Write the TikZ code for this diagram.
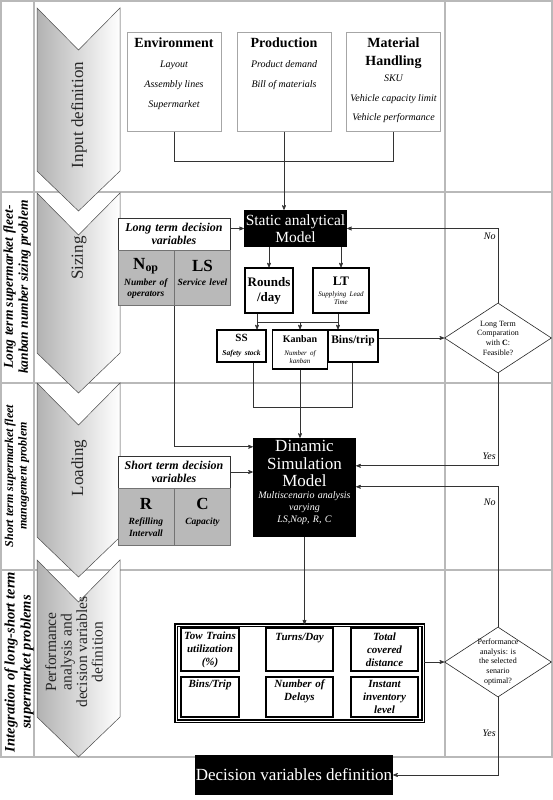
\documentclass[tikz,border=0pt]{standalone}
\usepackage{fontspec}
\setmainfont{Liberation Serif}
\usetikzlibrary{arrows,positioning,shapes.geometric}

\tikzset{
  lane/.style={draw=gray!55, line width=1.2pt},
  chev/.style={left color=gray!60, right color=white, draw=gray!60!black, line width=0.5pt},
  chevtext/.style={rotate=90, align=center, text=black!85, font=\fontsize{17}{19}\selectfont},
  sidetext/.style={rotate=90, align=center, font=\bfseries\itshape\fontsize{13.5}{15}\selectfont},
  inbox/.style={draw=gray!70, line width=0.6pt, minimum width=94pt, minimum height=99pt, inner sep=0pt, anchor=north},
  blackbox/.style={fill=black, text=white, align=center, inner sep=0pt},
  varbox/.style={draw=black!80, line width=0.8pt, fill=white, minimum width=112pt, minimum height=32pt, text width=110pt, align=center, inner sep=0pt, font=\bfseries\itshape\fontsize{12}{13.5}\selectfont},
  greybox/.style={draw=black!55, line width=0.6pt, fill=gray!55, minimum width=56pt, text width=54pt, align=center, inner sep=0pt},
  calcbox/.style={draw, line width=1.2pt, fill=white, align=center, inner sep=0pt},
  kpicell/.style={draw, line width=1.2pt, align=center, inner sep=0pt, font=\bfseries\itshape\fontsize{11}{13}\selectfont},
  check/.style={diamond, draw=black!85, line width=0.6pt, minimum width=107pt, minimum height=70pt, inner sep=0pt},
  checktext/.style={align=center, font=\fontsize{8}{9.7}\selectfont},
  answer/.style={font=\itshape\fontsize{10}{12}\selectfont, inner sep=2pt},
  link/.style={draw=black!80, line width=0.7pt}
}

\begin{document}
\begin{tikzpicture}[x=1pt,y=-1pt,>=stealth']
\useasboundingbox (0,0) rectangle (553,800);

\draw[lane] (1,1) rectangle (552,757);
\draw[lane] (34,1) -- (34,757) (445,1) -- (445,757)
  (1,192) -- (552,192) (1,383) -- (552,383) (1,570) -- (552,570);

\foreach \t/\b in {8/171,193/353,383/537,560/717}
  \shadedraw[chev] (37,\t) -- (78.5,\t+42) -- (120,\t) -- (120,\b) -- (78.5,\b+40) -- (37,\b) -- cycle;

\node[chevtext] (inp) at (79,115) {Input definition};
\node[chevtext] (siz) at (79,258) {Sizing};
\node[chevtext] (loa) at (79,468) {Loading};
\node[chevtext, font=\fontsize{15.5}{15.5}\selectfont] (per) at (74,652) {Performance\\analysis and\\decision variables\\definition};

\node[sidetext] (lts) at (17,287) {Long term supermarket fleet-\\kanban number sizing problem};
\node[sidetext, font=\bfseries\itshape\fontsize{12}{13.5}\selectfont] (sts) at (17,476) {Short term supermarket fleet\\management problem};
\node[sidetext, font=\bfseries\itshape\fontsize{14.5}{16}\selectfont] (int) at (19,662) {Integration of long-short term\\supermarket problems};

\node[inbox] (env) at (174,32) {\parbox[c][97pt][t]{92pt}{\centering\fontsize{10}{20}\selectfont
  \vspace*{4pt}\textbf{\fontsize{14}{16}\selectfont Environment}\\ \itshape Layout\\Assembly lines\\Supermarket}};
\node[inbox] (prod) at (284,32) {\parbox[c][97pt][t]{92pt}{\centering\fontsize{10}{20}\selectfont
  \vspace*{4pt}\textbf{\fontsize{14}{16}\selectfont Production}\\ \itshape Product demand\\Bill of materials}};
\node[inbox] (mat) at (393.5,32) {\parbox[c][97pt][t]{92pt}{\centering
  \vspace*{4pt}{\bfseries\fontsize{14}{18}\selectfont Material\\Handling\par}\vspace{-3pt}
  {\itshape\fontsize{10}{19.5}\selectfont SKU\\Vehicle capacity limit\\Vehicle performance\par}}};

\node[blackbox, minimum width=103pt, minimum height=37pt, font=\fontsize{15.5}{17}\selectfont] (static) at (295.5,228.5) {Static analytical\\Model};

\node[varbox] (ltv) at (174,234) {Long term decision\\variables};
\node[greybox, minimum height=55pt, below right=0pt and 0pt of ltv.south west] (nop)
  {{\bfseries\fontsize{17}{18}\selectfont N\textsubscript{op}\par}\vspace{4pt}
   {\bfseries\itshape\fontsize{9.5}{10.5}\selectfont Number of\\operators\par}};
\node[greybox, minimum height=55pt, right=0pt of nop] (ls)
  {{\bfseries\fontsize{17}{18}\selectfont LS\par}\vspace{4pt}
   {\bfseries\itshape\fontsize{9.5}{10.5}\selectfont Service level\\ \mbox{}\par}};

\node[calcbox, minimum width=48pt, minimum height=45pt, text width=46pt, font=\bfseries\fontsize{13}{15}\selectfont] (rounds) at (269,290.5) {Rounds\\/day};
\node[calcbox, minimum width=56pt, minimum height=45pt, text width=54pt] (lt) at (341,290.5)
  {{\bfseries\fontsize{13}{15}\selectfont LT\par}\vspace{3pt}
   {\itshape\fontsize{7}{8}\selectfont Supplying Lead\\Time\par}};

\node[calcbox, minimum width=49pt, minimum height=32pt, text width=47pt] (ss) at (241.5,346)
  {{\bfseries\fontsize{11}{12}\selectfont SS\par}\vspace{6pt}
   {\bfseries\itshape\fontsize{7.5}{8}\selectfont Safety stock\par}};
\node[calcbox, minimum width=55pt, minimum height=39pt, text width=53pt] (kanban) at (300,349.5)
  {{\bfseries\fontsize{10}{12}\selectfont Kanban\par}\vspace{5pt}
   {\itshape\fontsize{7}{8}\selectfont Number of\\kanban\par}};
\node[calcbox, minimum width=50pt, minimum height=32pt, text width=48pt, font=\bfseries\fontsize{11.5}{13}\selectfont] (bins) at (353,346) {Bins/trip\\ \mbox{}};

\node[check, label={[checktext]center:{Long Term\\Comparation\\with \textbf{C}:\\Feasible?}}] (d1) at (498,338) {};

\node[blackbox, minimum width=103pt, minimum height=99pt, text width=101pt] (dyn) at (304.5,487.5)
  {{\fontsize{17}{17.5}\selectfont Dinamic\\Simulation\\Model\par}
   {\itshape\fontsize{10}{12}\selectfont Multiscenario analysis\\varying\\LS,Nop, R, C\par}\vspace{10pt}};

\node[varbox] (stv) at (174,472) {Short term decision\\variables};
\node[greybox, minimum height=57pt, below right=0pt and 0pt of stv.south west] (rint)
  {{\bfseries\fontsize{17}{18}\selectfont R\par}\vspace{4pt}
   {\bfseries\itshape\fontsize{9.5}{11.5}\selectfont Refilling\\Intervall\par}};
\node[greybox, minimum height=57pt, right=0pt of rint] (cap)
  {{\bfseries\fontsize{17}{18}\selectfont C\par}\vspace{4pt}
   {\bfseries\itshape\fontsize{9.5}{11.5}\selectfont Capacity\\ \mbox{}\par}};

\node[draw=black, double=white, double distance=0.9pt, line width=1.1pt, minimum width=247pt, minimum height=96pt] (res) at (299.5,673) {};
\node[kpicell, minimum width=58pt, minimum height=43pt, text width=56pt] (tow) at (210,649.5) {Tow Trains\\utilization\\(\%)};
\node[kpicell, minimum width=67pt, minimum height=43pt, text width=65pt] (turns) at (299.5,649.5) {Turns/Day\\ \mbox{}\\ \mbox{}};
\node[kpicell, minimum width=67pt, minimum height=43pt, text width=65pt] (dist) at (384.5,649.5) {Total\\covered\\distance};
\node[kpicell, minimum width=58pt, minimum height=40pt, text width=56pt] (btrip) at (210,697) {Bins/Trip\\ \mbox{}\\ \mbox{}};
\node[kpicell, minimum width=67pt, minimum height=40pt, text width=65pt] (delays) at (299.5,697) {Number of\\Delays\\ \mbox{}};
\node[kpicell, minimum width=67pt, minimum height=40pt, text width=65pt] (inv) at (384.5,697) {Instant\\inventory\\level};

\node[check, label={[checktext]center:{Performance\\analysis: is\\the selected\\senario\\optimal?}}] (d2) at (498,662) {};

\node[blackbox, minimum width=198pt, minimum height=40pt, font=\fontsize{17}{19}\selectfont] (dvd) at (294,775) {Decision variables definition};

\coordinate (inj) at (0,161);
\coordinate (j1) at (257,322);
\coordinate (j2) at (338,322);
\coordinate (j3) at (253,407);
\coordinate (j4) at (352,407);

\draw[link] (env.south) -- (env.south |- inj) -- (mat.south |- inj) -- (mat.south);
\draw[link,->] (prod.south) -- (prod.south |- static.north);
\draw[link,->] (ltv.east |- static.west) -- (static.west);
\draw[link,->] (static.south -| rounds) -- (rounds.north);
\draw[link,->] (static.south -| lt) -- (lt.north);
\draw[link] (rounds.south -| j1) -- (j1) -- (j2) -- (lt.south -| j2);
\draw[link,->] (j1) -- (ss.north -| j1);
\draw[link,->] (kanban.north |- j1) -- (kanban.north);
\draw[link,->] (j2) -- (bins.north -| j2);
\draw[link,->] (bins.east |- d1.west) -- (d1.west);
\draw[link,->] (d1.north) |- (static.east) node[answer, pos=0.45, left] {No};
\draw[link] (ss.south -| j3) -- (j3) -- (j4) -- (bins.south -| j4);
\draw[link,->] (kanban.south) -- (kanban.south |- dyn.north);
\draw[link,->] (nop.south east) |- ([yshift=-9pt]dyn.north west);
\draw[link,->] (stv.east) -- (stv.east -| dyn.west);
\draw[link,->] (d1.south) |- ([yshift=-28pt]dyn.north east) node[answer, pos=0.45, left] {Yes};
\draw[link,->] (dyn.south) -- (dyn.south |- res.north);
\draw[link,->] (res.east |- d2.west) -- (d2.west);
\draw[link,->] (d2.north) |- ([yshift=-49pt]dyn.north east) node[answer, pos=0.445, left] {No};
\draw[link,->] (d2.south) |- (dvd.east) node[answer, pos=0.23, left] {Yes};
\end{tikzpicture}
\end{document}
